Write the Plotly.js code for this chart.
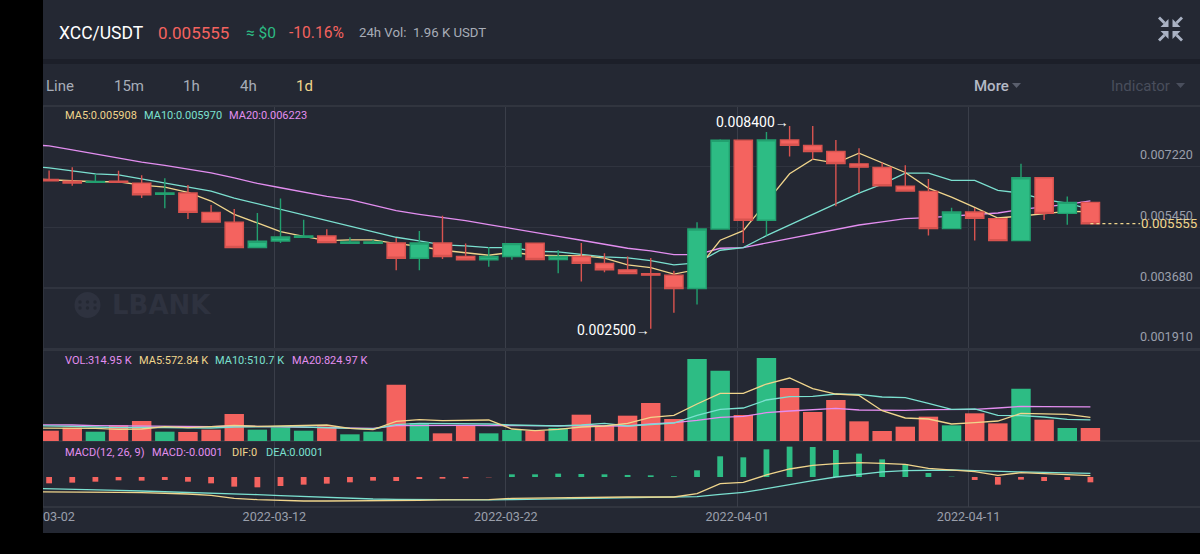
<!DOCTYPE html>
<html><head><meta charset="utf-8">
<script src="https://cdn.plot.ly/plotly-3.0.1.min.js"></script>
<style>html,body{margin:0;padding:0;background:#000;overflow:hidden}#c{width:1200px;height:554px}</style>
</head><body><div id="c"></div>
<script>
// ---------- data ----------
const dates = ["2022-03-01","2022-03-02","2022-03-03","2022-03-04","2022-03-05","2022-03-06","2022-03-07","2022-03-08","2022-03-09","2022-03-10","2022-03-11","2022-03-12","2022-03-13","2022-03-14","2022-03-15","2022-03-16","2022-03-17","2022-03-18","2022-03-19","2022-03-20","2022-03-21","2022-03-22","2022-03-23","2022-03-24","2022-03-25","2022-03-26","2022-03-27","2022-03-28","2022-03-29","2022-03-30","2022-03-31","2022-04-01","2022-04-02","2022-04-03","2022-04-04","2022-04-05","2022-04-06","2022-04-07","2022-04-08","2022-04-09","2022-04-10","2022-04-11","2022-04-12","2022-04-13","2022-04-14","2022-04-15","2022-04-16"];
const open  = [0.006844,0.006795,0.006757,0.006795,0.006737,0.006408,0.006447,0.005886,0.005596,0.004861,0.005054,0.005161,0.005199,0.004986,0.004986,0.004996,0.004551,0.004996,0.004600,0.004503,0.004600,0.004986,0.004513,0.004600,0.004396,0.004213,0.004097,0.004058,0.003671,0.005402,0.007985,0.005654,0.007995,0.007830,0.007656,0.007298,0.007192,0.006650,0.006495,0.005412,0.005896,0.005702,0.005064,0.006892,0.005857,0.006176];
const close = [0.006805,0.006737,0.006786,0.006757,0.006399,0.006447,0.005886,0.005606,0.004861,0.005045,0.005170,0.005199,0.005006,0.005025,0.005025,0.004551,0.004996,0.004600,0.004503,0.004600,0.004977,0.004513,0.004600,0.004406,0.004213,0.004106,0.004058,0.003671,0.005402,0.007985,0.005654,0.007995,0.007840,0.007656,0.007308,0.007202,0.006660,0.006505,0.005412,0.005896,0.005712,0.005064,0.006892,0.005857,0.006176,0.005555];
const high  = [0.007105,0.007202,0.007000,0.007095,0.006969,0.006882,0.006679,0.006099,0.005983,0.005867,0.006292,0.005673,0.005393,0.005161,0.005093,0.005141,0.005344,0.005789,0.004977,0.004880,0.004986,0.004986,0.004793,0.004996,0.004696,0.004600,0.004561,0.004184,0.005596,0.008014,0.007995,0.008227,0.008400,0.008400,0.007995,0.007753,0.007337,0.007260,0.006853,0.006021,0.006012,0.005712,0.007298,0.006892,0.006350,0.006176];
const low   = [0.006805,0.006660,0.006737,0.006737,0.006302,0.006002,0.005693,0.005596,0.004861,0.004861,0.004996,0.005161,0.004996,0.004986,0.004986,0.004203,0.004203,0.004532,0.004503,0.004300,0.004503,0.004513,0.004116,0.003874,0.004145,0.004106,0.002500,0.002965,0.003207,0.005402,0.004996,0.005209,0.007511,0.007414,0.006060,0.006447,0.006660,0.006505,0.005209,0.005412,0.005064,0.005064,0.005064,0.005664,0.005528,0.005555];
const ma5  = [0.006863,0.006834,0.006786,0.006776,0.006776,0.006679,0.006621,0.006466,0.006215,0.005828,0.005577,0.005325,0.005189,0.005064,0.005083,0.005083,0.004977,0.004899,0.004783,0.004706,0.004638,0.004725,0.004638,0.004629,0.004629,0.004551,0.004358,0.004280,0.004087,0.004222,0.005074,0.005354,0.006176,0.007008,0.007434,0.007318,0.007608,0.007318,0.007047,0.006592,0.006331,0.006031,0.005722,0.005780,0.005847,0.005915,0.005908];
const ma10 = [0.007221,0.007182,0.007095,0.007008,0.006979,0.006863,0.006737,0.006621,0.006505,0.006302,0.006138,0.005993,0.005828,0.005654,0.005480,0.005335,0.005161,0.005054,0.004938,0.004909,0.004861,0.004861,0.004754,0.004735,0.004667,0.004590,0.004561,0.004484,0.004358,0.004416,0.004783,0.004861,0.005209,0.005518,0.005828,0.006138,0.006447,0.006708,0.007028,0.007028,0.006815,0.006815,0.006525,0.006447,0.006254,0.006157,0.005970];
const ma20 = [0.007859,0.007821,0.007705,0.007579,0.007472,0.007347,0.007250,0.007134,0.007037,0.006892,0.006728,0.006602,0.006476,0.006350,0.006254,0.006099,0.005934,0.005828,0.005741,0.005644,0.005528,0.005422,0.005315,0.005189,0.005074,0.004957,0.004841,0.004764,0.004658,0.004658,0.004841,0.004861,0.004996,0.005122,0.005248,0.005383,0.005518,0.005606,0.005702,0.005731,0.005770,0.005818,0.005867,0.005973,0.006041,0.006118,0.006223];
const volume = [250,323,226,380,485,226,218,275,654,275,331,250,356,162,226,1366,436,186,364,186,267,250,315,638,372,614,921,533,1988,1705,630,2012,1285,703,994,477,242,347,590,380,671,428,1269,517,315,315];
const volMa5  = [315,315,315,307,283,291,347,323,347,380,356,372,372,388,307,275,477,517,493,509,509,291,250,283,339,364,428,574,622,897,1155,1155,1382,1527,1269,1139,1107,735,558,533,412,444,485,671,654,646,573];
const volMa10 = [372,372,356,339,323,331,323,323,315,339,347,347,339,331,307,291,396,428,428,420,412,388,380,364,388,428,364,396,436,622,768,800,994,1075,1083,1139,1131,1067,1050,913,768,776,622,614,582,525,511];
const volMa20 = [396,396,388,372,364,364,364,347,347,364,356,356,347,339,315,307,372,380,388,380,372,364,372,372,364,356,364,412,444,501,574,598,687,727,760,792,751,743,743,760,768,768,800,840,832,832,825];
const macdHist = [-0.000119,-0.000106,-0.000088,-0.000063,-0.000069,-0.000056,-0.000088,-0.000119,-0.000181,-0.000194,-0.000169,-0.000144,-0.000125,-0.000100,-0.000069,-0.000075,-0.000038,-0.000031,-0.000025,-0.000006,0.000050,0.000050,0.000063,0.000056,0.000050,0.000038,0.000031,0.000013,0.000125,0.000388,0.000369,0.000519,0.000569,0.000563,0.000506,0.000438,0.000331,0.000244,0.000075,0.000006,-0.000056,-0.000144,-0.000050,-0.000075,-0.000056,-0.000100];
const dif = [-0.000275,-0.000275,-0.000281,-0.000281,-0.000288,-0.000294,-0.000300,-0.000319,-0.000344,-0.000400,-0.000425,-0.000444,-0.000450,-0.000450,-0.000450,-0.000450,-0.000450,-0.000438,-0.000431,-0.000431,-0.000425,-0.000400,-0.000394,-0.000381,-0.000388,-0.000381,-0.000375,-0.000375,-0.000375,-0.000313,-0.000125,-0.000100,0.000038,0.000150,0.000219,0.000250,0.000269,0.000256,0.000238,0.000163,0.000138,0.000100,0.000031,0.000081,0.000063,0.000050,0.000025];
const dea = [-0.000213,-0.000219,-0.000231,-0.000238,-0.000250,-0.000263,-0.000275,-0.000281,-0.000300,-0.000319,-0.000331,-0.000350,-0.000369,-0.000381,-0.000400,-0.000413,-0.000419,-0.000425,-0.000425,-0.000431,-0.000431,-0.000425,-0.000419,-0.000406,-0.000400,-0.000394,-0.000388,-0.000388,-0.000381,-0.000369,-0.000325,-0.000288,-0.000219,-0.000138,-0.000069,0.000000,0.000050,0.000094,0.000119,0.000125,0.000131,0.000119,0.000100,0.000094,0.000088,0.000075,0.000069];
const priceTicks = [0.00722,0.00545,0.00368,0.00191];
const priceTickText = ["0.007220","0.005450","0.003680","0.001910"];
const dateTicks = ["2022-03-01 17:40","2022-03-11 17:40","2022-03-21 17:40","2022-03-31 17:40","2022-04-10 17:40"];
const dateTickText = ["2022-03-02","2022-03-12","2022-03-22","2022-04-01","2022-04-11"];
const lastPrice = 0.005555;

// ---------- styles ----------
const BG='#242833',GREEN='#2dbc84',RED='#f4635f',YEL='#f0d58c',TEAL='#7be0d0',PUR='#e38ef0';
const FONT='Roboto, sans-serif';
const X=p=>(p-43)/1157, Y=p=>(507-p)/400;
const cd = dates.slice(1);
const isUp = close.map((c,i)=>c>=open[i]);
const barColors = isUp.map(u=>u?GREEN:RED);
const day = 86400000;
function line(x,y,color,ya,w){return {type:'scatter',mode:'lines',x,y,yaxis:ya,line:{color,width:w||1.3,shape:'linear'},hoverinfo:'skip',showlegend:false};}

const traces = [
  line(dates,ma20,PUR,'y'),line(dates,ma10,TEAL,'y'),line(dates,ma5,YEL,'y'),
  {type:'candlestick',x:cd,open,close,high,low,yaxis:'y',zorder:1,whiskerwidth:0,showlegend:false,hoverinfo:'skip',
   increasing:{line:{color:'#22a06f',width:1.4},fillcolor:GREEN},
   decreasing:{line:{color:'#d8534f',width:1.4},fillcolor:RED}},
  {type:'bar',x:cd,y:volume,yaxis:'y2',marker:{color:barColors,line:{width:0}},width:0.84*day,showlegend:false,hoverinfo:'skip'},
  line(dates,volMa20,PUR,'y2'),line(dates,volMa10,TEAL,'y2'),line(dates,volMa5,YEL,'y2'),
  {type:'bar',x:cd,y:macdHist,yaxis:'y3',marker:{color:macdHist.map(v=>v>=0?GREEN:RED),line:{width:0}},width:0.25*day,showlegend:false,hoverinfo:'skip'},
  line(dates,dea,TEAL,'y3'),line(dates,dif,YEL,'y3')
];

function T(px,py,text,color,size,anchor,weight,family){
  return {xref:'paper',yref:'paper',x:X(px),y:Y(py),text,showarrow:false,xanchor:anchor||'left',yanchor:'middle',
          font:{family:family||FONT,size,color,weight:weight||400},borderpad:0};
}
const annotations = [
  T(58,33,'XCC/USDT','#ffffff',17.5),
  T(157,33,'0.005555',RED,17),
  T(245,33,'≈ $0',GREEN,15.5),
  T(288,33,'-10.16%',RED,15.6),
  T(358,33,'24h Vol:\u00a0\u00a01.96 K USDT','#a8adb8',13.2),
  T(45,86,'Line','#a8adb8',15),T(113,86,'15m','#a8adb8',15),T(182,86,'1h','#a8adb8',15),T(239,86,'4h','#a8adb8',15),T(295,86,'1d',YEL,15),
  T(973,86,'More','#b4bac6',15,'left',500),T(1110,86,'Indicator','#494e5c',15),
  T(64,116,'MA5:0.005908',YEL,11),T(143,116,'MA10:0.005970',TEAL,11),T(228,116,'MA20:0.006223',PUR,11),
  T(64,360,'VOL:314.95 K',PUR,11),T(138,360,'MA5:572.84 K',YEL,11),T(214,360,'MA10:510.7 K',TEAL,11),T(291,360,'MA20:824.97 K',PUR,11),
  T(64,452,'MACD(12, 26, 9)',PUR,11),T(151,452,'MACD:-0.0001',PUR,11),T(231,452,'DIF:0',YEL,11),T(265,452,'DEA:0.0001',TEAL,11),
  T(111,305,'LBANK','#2e323f',26,'left',700,'DejaVu Sans'),
  {xref:'x',yref:'y',x:cd[26],y:0.00245,text:'0.002500→',showarrow:false,xanchor:'right',yanchor:'middle',font:{family:FONT,size:14,color:'#ffffff'},borderpad:0},
  {xref:'x',yref:'y',x:cd[32],y:0.00852,text:'0.008400→',showarrow:false,xanchor:'right',yanchor:'middle',font:{family:FONT,size:14,color:'#ffffff'},borderpad:0},
  ...priceTicks.map((v,i)=>({xref:'paper',yref:'y',x:X(1194),y:v,yshift:12,text:priceTickText[i],showarrow:false,xanchor:'right',yanchor:'middle',font:{family:FONT,size:12.6,color:'#9a9fab'},borderpad:0})),
  {xref:'paper',yref:'y',x:X(1198),y:lastPrice,text:'0.005555',showarrow:false,xanchor:'right',yanchor:'middle',font:{family:FONT,size:13.4,color:YEL},borderpad:0}
];

function rect(x0,y0,x1,y1,fill,layer){return {type:'rect',xref:'paper',yref:'paper',x0:X(x0),x1:X(x1),y0:Y(y0),y1:Y(y1),fillcolor:fill,line:{width:0},layer:layer||'below'};}
function hline(py,c,w){return {type:'line',xref:'paper',yref:'paper',x0:0,x1:1,y0:Y(py),y1:Y(py),line:{color:c,width:w||1.5},layer:'below'};}
function poly(pts,fill,layer){return {type:'path',xref:'paper',yref:'paper',path:'M'+pts.map(p=>X(p[0])+','+Y(p[1])).join(' L')+' Z',fillcolor:fill,line:{width:0},layer:layer||'above'};}
function dot(px,py,r,fill){return {type:'circle',xref:'paper',yref:'paper',x0:X(px-r),x1:X(px+r),y0:Y(py+r),y1:Y(py-r),fillcolor:fill,line:{width:0},layer:'below'};}
const shapes = [
  rect(43,0,1200,533,BG),
  rect(43,59,1200,64,'#1c1f29'),
  hline(106,'#363a45'),hline(350,'#363a45'),hline(441,'#363a45'),hline(507,'#363a45'),
  {type:'line',xref:'paper',yref:'paper',x0:0,x1:0,y0:Y(106),y1:Y(507),line:{color:'#3a3e49',width:1},layer:'below'},
  {type:'line',xref:'x',yref:'y',x0:cd[45],x1:'2022-04-18 03:36',y0:lastPrice,y1:lastPrice,line:{color:YEL,width:1.3,dash:'dot'},layer:'above'},
  rect(0,0,43,554,'#000000','above'),
  poly([[1012,83],[1021,83],[1016.5,88]],'#5a5f6d'),
  poly([[1176,83],[1185,83],[1180.5,88]],'#494e5c'),
  // logo
  dot(87.5,305,13,'#2e323f'),
  dot(80,302,1.7,BG),dot(80,308,1.7,BG),dot(87.5,302,1.7,BG),dot(87.5,308,1.7,BG),dot(95,302,1.7,BG),dot(95,308,1.7,BG)
];
const cx=1170.5, cy=29, ic='#aab2c4';
[[-1,-1],[1,-1],[-1,1],[1,1]].forEach(([sx,sy])=>{
  shapes.push(poly([[cx+sx*2,cy+sy*2],[cx+sx*10,cy+sy*2],[cx+sx*2,cy+sy*10]],ic));
  shapes.push(poly([[cx+sx*10.5,cy+sy*12.5],[cx+sx*12.5,cy+sy*10.5],[cx+sx*7,cy+sy*5],[cx+sx*5,cy+sy*7]],ic));
});

const layout = {
  width:1200,height:554,showlegend:false,
  margin:{l:43,r:0,t:107,b:47,pad:0},
  paper_bgcolor:'#000000',plot_bgcolor:'rgba(0,0,0,0)',
  font:{family:FONT,color:'#9a9fab'},
  xaxis:{type:'date',anchor:'y3',range:['2022-03-01 17:40','2022-04-20 17:40'],tickmode:'array',tickvals:dateTicks,ticktext:dateTickText,
         tickfont:{family:FONT,size:12.6,color:'#9a9fab'},ticks:'',showgrid:true,gridcolor:'#3a3e49',gridwidth:1,zeroline:false,showline:false,
         rangeslider:{visible:false},fixedrange:true},
  yaxis:{domain:[0.3925,1],range:[0.00188,0.008952],tickmode:'array',tickvals:priceTicks,showticklabels:false,ticks:'',showgrid:true,gridcolor:'#30343f',gridwidth:1.5,zeroline:false,showline:false,anchor:'x',fixedrange:true},
  yaxis2:{domain:[0.165,0.39],range:[0,2182],showgrid:false,showticklabels:false,ticks:'',zeroline:false,showline:false,anchor:'x',fixedrange:true},
  yaxis3:{domain:[0,0.165],range:[-0.000563,0.000675],showgrid:false,showticklabels:false,ticks:'',zeroline:false,showline:false,anchor:'x',fixedrange:true},
  boxgap:0.21,boxgroupgap:0,barmode:'overlay',annotations,shapes
};
Plotly.newPlot('c',traces,layout,{displayModeBar:false,staticPlot:true});
</script></body></html>
